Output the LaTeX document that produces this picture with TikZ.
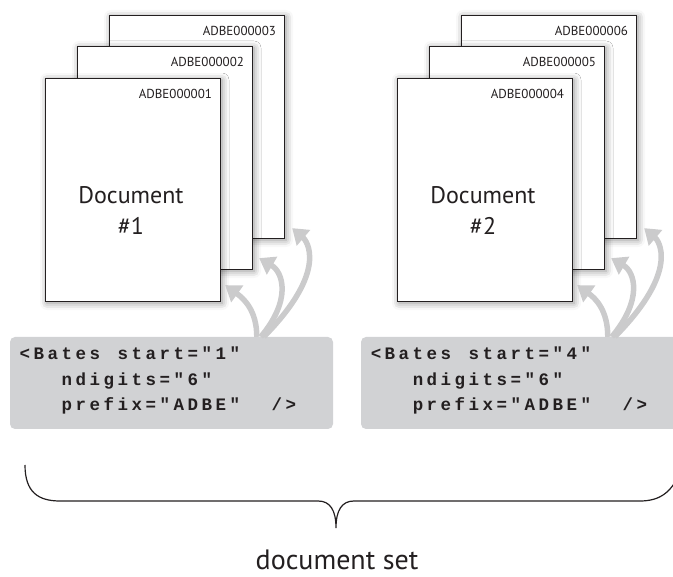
\documentclass[tikz,border=0pt]{standalone}
\usepackage{fontspec}
\setmainfont{PT Sans}
\newfontfamily\codefont{Liberation Mono}
\usepackage{xcolor}
\usepackage{tikz}
\usetikzlibrary{positioning, calc, arrows.meta, shadows.blur}

\definecolor{codegray}{HTML}{D1D2D4}
\definecolor{bendgray}{HTML}{CBCBCC}
\definecolor{ink}{HTML}{231F20}

% every code character in a cell of its own, ~ is a blank cell
\makeatletter
\newcommand{\codeline}[1]{\@tfor\codech:=#1\do{\makebox[14pt][c]{\codech}}}
\makeatother

\tikzset{
  page/.style={draw=ink, line width=1.3pt, fill=white, inner sep=0pt,
    minimum width=175pt, minimum height=223pt,
    blur shadow={shadow xshift=1.5pt, shadow yshift=-1.5pt,
      shadow blur radius=7pt, shadow opacity=45}},
  batesno/.style={anchor=base east, inner sep=0pt, text=ink,
    font=\fontsize{13}{13}\selectfont},
  doclabel/.style={align=center, inner sep=0pt, text=ink,
    font=\fontsize{24}{31}\selectfont},
  codebox/.style={fill=codegray, rounded corners=5pt, inner sep=0pt,
    minimum width=323pt, minimum height=92pt},
  codetext/.style={anchor=north west, align=left, inner sep=0pt, text=ink,
    font={\fontsize{17.5}{25.5}\codefont\bfseries}},
  uparrow/.style={draw=bendgray, line width=5.5pt,
    -{Triangle[length=15pt, width=20pt]}},
  brace/.style={draw=ink, line width=1.2pt}
}

\begin{document}
\begin{tikzpicture}[x=1pt, y=-1pt]
  \useasboundingbox (0,0) rectangle (673,577);

  % first document, back to front
  \node[page] (p3) at (197,127) {};
  \node[page] (p2) at (165,158) {};
  \node[page] (p1) at (133,190) {};
  \node[batesno] (n3) at ($(p3.north east)+(-9,21)$) {ADBE000003};
  \node[batesno] (n2) at ($(p2.north east)+(-9,21)$) {ADBE000002};
  \node[batesno] (n1) at ($(p1.north east)+(-9,21)$) {ADBE000001};
  \node[doclabel] (d1) at ($(p1.center)+(-2,21)$) {Document\\\#1};

  % second document
  \node[page] (p6) at (549,127) {};
  \node[page] (p5) at (517,158) {};
  \node[page] (p4) at (485,190) {};
  \node[batesno] (n6) at ($(p6.north east)+(-9,21)$) {ADBE000006};
  \node[batesno] (n5) at ($(p5.north east)+(-9,21)$) {ADBE000005};
  \node[batesno] (n4) at ($(p4.north east)+(-9,21)$) {ADBE000004};
  \node[doclabel] (d2) at ($(p4.center)+(-2,21)$) {Document\\\#2};

  % Bates settings
  \node[codebox] (box1) at (171.5,383) {};
  \node[codebox] (box2) at (522.5,383) {};
  \node[codetext] (c1) at ($(box1.north west)+(8,10)$)
    {\codeline{<Bates~start="1"}\\
     \codeline{~~~ndigits="6"}\\
     \codeline{~~~prefix="ADBE"~~/>}};
  \node[codetext] (c2) at ($(box2.north west)+(8,10)$)
    {\codeline{<Bates~start="4"}\\
     \codeline{~~~ndigits="6"}\\
     \codeline{~~~prefix="ADBE"~~/>}};

  % numbering runs up the stack
  \coordinate (s1a) at ($(box1.north west)+(247,0)$);
  \coordinate (s1b) at ($(box1.north west)+(251,0)$);
  \coordinate (s1c) at ($(box1.north west)+(254,0)$);
  \coordinate (t1) at ($(p1.south east)+(4,-17)$);
  \coordinate (t2) at ($(p2.south east)+(6,-12)$);
  \coordinate (t3) at ($(p3.south east)+(7,-11)$);
  \draw[uparrow] (s1a) .. controls +(0,-27) and +(18,13) .. (t1);
  \draw[uparrow] (s1b) .. controls +(31,-37) and +(24,14) .. (t2);
  \draw[uparrow] (s1c) .. controls +(66,-67) and +(14,12) .. (t3);

  \coordinate (s2a) at ($(box2.north west)+(247,0)$);
  \coordinate (s2b) at ($(box2.north west)+(251,0)$);
  \coordinate (s2c) at ($(box2.north west)+(254,0)$);
  \coordinate (t4) at ($(p4.south east)+(4,-17)$);
  \coordinate (t5) at ($(p5.south east)+(6,-12)$);
  \coordinate (t6) at ($(p6.south east)+(7,-11)$);
  \draw[uparrow] (s2a) .. controls +(0,-27) and +(18,13) .. (t4);
  \draw[uparrow] (s2b) .. controls +(31,-37) and +(24,14) .. (t5);
  \draw[uparrow] (s2c) .. controls +(66,-67) and +(14,12) .. (t6);

  % the set
  \coordinate (tip) at (336,528);
  \draw[brace] (25,465) .. controls (25,492) and (38,501) .. (60,501)
    -- (318,501) .. controls (330,501) and (336,510) .. (tip)
    .. controls (336,510) and (342,501) .. (354,501)
    -- (640,501) .. controls (660,501) and (672,492) .. (680,472);
  \node[text=ink, font=\fontsize{28}{28}\selectfont, anchor=base]
    (set) at (337,569) {document set};
\end{tikzpicture}
\end{document}
